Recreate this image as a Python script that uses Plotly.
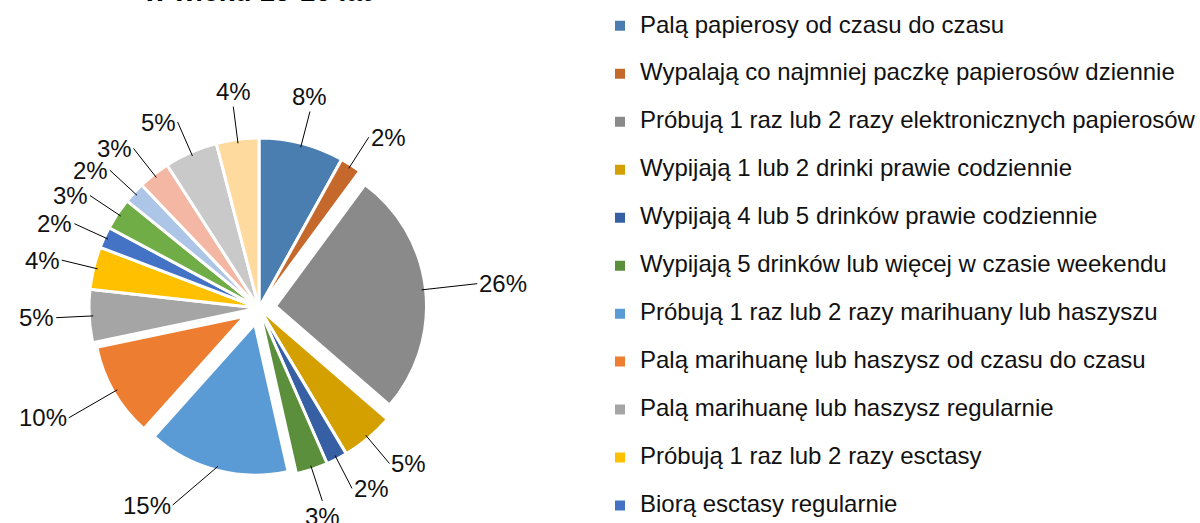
import math
import plotly.graph_objects as go

W, H = 1200, 523
FONT = "Liberation Sans, Arial, sans-serif"

# slices, clockwise from 12 o'clock
labels = [
    "Palą papierosy od czasu do czasu",
    "Wypalają co najmniej paczkę papierosów dziennie",
    "Próbują 1 raz lub 2 razy elektronicznych papierosów",
    "Wypijają 1 lub 2 drinki prawie codziennie",
    "Wypijają 4 lub 5 drinków prawie codziennie",
    "Wypijają 5 drinków lub więcej w czasie weekendu",
    "Próbują 1 raz lub 2 razy marihuany lub haszyszu",
    "Palą marihuanę lub haszysz od czasu do czasu",
    "Palą marihuanę lub haszysz regularnie",
    "Próbują 1 raz lub 2 razy esctasy",
    "Biorą esctasy regularnie",
    "Próbują 1 raz lub 2 razy amfetaminy",
    "Biorą amfetaminę regularnie",
    "Próbują 1 raz lub 2 razy LSD",
    "Wąchają klej lub rozpuszczalniki",
    "Biorą leki uspokajające bez recepty",
]
values = [8, 2, 26, 5, 2, 3, 15, 10, 5, 4, 2, 3, 2, 3, 5, 4]
colors = [
    "#4A7EB0", "#C5682B", "#8A8A8A", "#D4A000", "#365FA4", "#5B8F3B",
    "#5B9BD5", "#ED7D31", "#A5A5A5", "#FFC000", "#4472C4", "#70AD47",
    "#ADC5E7", "#F4B7A4", "#C9C9C9", "#FFDA9E",
]
# exploded slices (drawn smaller and pulled out, like the original)
exploded = [False, False, True, False, False, False, True, True,
            False, False, False, False, False, False, False, False]

# pie geometry in pixels
CX, CY = 259, 308
R_BIG = 170
R_SMALL = 151
PULL = 0.11
R_TAIL = 203
CLEAR = "rgba(0,0,0,0)"


def domain(cx, cy, half):
    return dict(x=[(cx - half) / W, (cx + half) / W],
                y=[1 - (cy + half) / H, 1 - (cy - half) / H])


# legend text: big visible line + empty line so rows are spaced like the original
legend_labels = [f'<span style="font-size:24px">{t}</span><br>&nbsp;' for t in labels]

fig = go.Figure()
# legend carrier: tiny pie hidden under the grey slice
fig.add_trace(go.Pie(
    labels=legend_labels, values=values, sort=False, direction="clockwise",
    textinfo="none", hoverinfo="skip", domain=domain(350, 300, 1),
    marker=dict(colors=colors, line=dict(color="white", width=2)),
))
# full-size slices
fig.add_trace(go.Pie(
    labels=legend_labels, values=values, sort=False, direction="clockwise",
    textinfo="none", hoverinfo="skip", showlegend=False,
    domain=domain(CX, CY, R_BIG),
    marker=dict(colors=[CLEAR if e else c for c, e in zip(colors, exploded)],
                line=dict(color="white", width=[0 if e else 3 for e in exploded])),
))
# exploded slices
fig.add_trace(go.Pie(
    labels=legend_labels, values=values, sort=False, direction="clockwise",
    textinfo="none", hoverinfo="skip", showlegend=False,
    pull=[PULL if e else 0 for e in exploded],
    domain=domain(CX, CY, R_SMALL * (1 + PULL)),
    marker=dict(colors=[c if e else CLEAR for c, e in zip(colors, exploded)],
                line=dict(color="white", width=[3 if e else 0 for e in exploded])),
))

# data labels with leader lines, placed from the slice angles
total = sum(values)
cum = 0
for v, e in zip(values, exploded):
    th = math.radians(360 * (cum + v / 2) / total)
    cum += v
    s, c = math.sin(th), math.cos(th)
    r_tip = (R_SMALL * (1 + PULL) if e else R_BIG) - 4
    r_tail = R_TAIL + (R_SMALL * PULL if e else 0)
    tip_x, tip_y = CX + r_tip * s, CY - r_tip * c
    tail_x, tail_y = CX + r_tail * s, CY - r_tail * c
    if abs(s) < 0.35:
        xa, ya = "center", ("bottom" if c > 0 else "top")
    else:
        xa, ya = ("left" if s > 0 else "right"), "middle"
    if ya == "top" and tail_y + 26 > H + 8:
        # keep the label inside the chart: move it up and sideways
        over = tail_y - (H - 18)
        tail_y = H - 18
        tail_x += math.copysign(2 * over, s)
        xa, ya = ("left" if s > 0 else "right"), "middle"
    fig.add_annotation(
        x=tip_x / W, y=1 - tip_y / H, xref="paper", yref="paper",
        ax=tail_x - tip_x, ay=tail_y - tip_y, xanchor=xa, yanchor=ya,
        text=f"{v}%", showarrow=True, arrowhead=0, arrowwidth=1, arrowcolor="#000",
        font=dict(size=24, color="#111", family=FONT),
    )

# title, cut off by the top edge in the original
fig.add_annotation(
    x=257 / W, y=1, xref="paper", yref="paper", xanchor="center", yanchor="bottom",
    yshift=-9, text="<b>w wieku 15-16 lat</b>", showarrow=False,
    font=dict(size=28, color="#000", family=FONT),
)

fig.update_layout(
    width=W, height=H,
    margin=dict(l=0, r=0, t=0, b=0, autoexpand=False),
    paper_bgcolor="white", plot_bgcolor="white",
    font=dict(family=FONT, color="#111"),
    legend=dict(x=600 / W, y=1 - 8 / H, xanchor="left", yanchor="top", valign="top",
                maxheight=1200,
                font=dict(size=17.3, family=FONT, color="#111"), traceorder="normal"),
)
fig.write_html(
    "out.html",
    config={"displayModeBar": False},
    post_script="document.body.style.margin='0';document.body.style.overflow='hidden';",
)
